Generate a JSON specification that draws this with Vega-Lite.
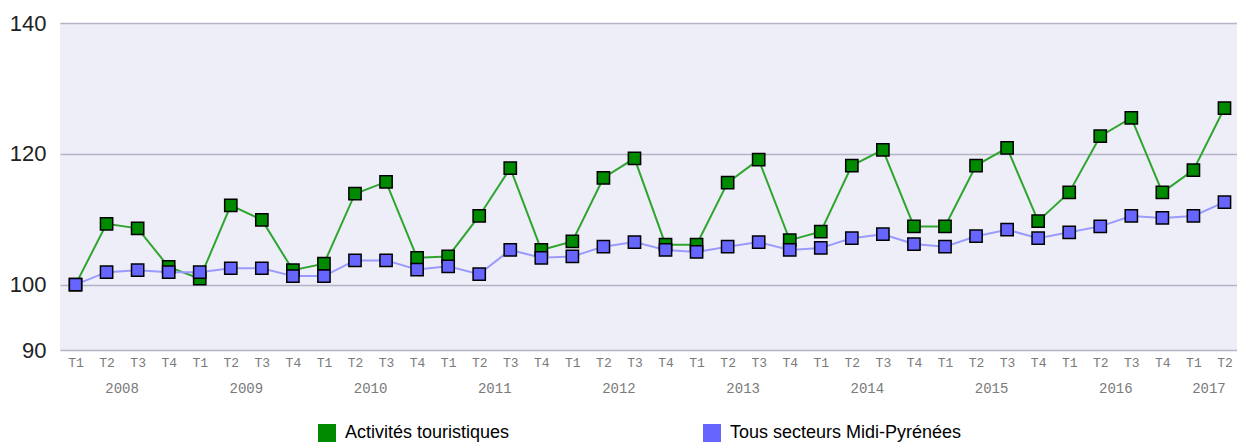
{
  "$schema": "https://vega.github.io/schema/vega-lite/v6.json",
  "width": 1180,
  "height": 327,
  "autosize": "none",
  "padding": {"left": 60, "top": 23, "right": 0, "bottom": 94},
  "background": "white",
  "view": {"fill": "#eeeef8", "stroke": null},
  "config": {
    "font": "Liberation Sans",
    "axisX": {
      "grid": false, "ticks": false, "domain": false,
      "labelFont": "Liberation Mono", "labelFontSize": 13, "labelColor": "#7a7a7a",
      "labelPadding": 6, "labelOverlap": false, "labelFlush": false
    },
    "axisY": {
      "grid": true, "gridColor": "#b4b4c8", "gridWidth": 1.5,
      "ticks": false, "domain": false,
      "labelFontSize": 22, "labelColor": "#222222", "labelPadding": 14
    }
  },
  "datasets": {
    "series": [
      {"idx": 0, "year": "2008", "q": "T1", "serie": "Activités touristiques", "value": 100},
      {"idx": 1, "year": "2008", "q": "T2", "serie": "Activités touristiques", "value": 109.3},
      {"idx": 2, "year": "2008", "q": "T3", "serie": "Activités touristiques", "value": 108.6},
      {"idx": 3, "year": "2008", "q": "T4", "serie": "Activités touristiques", "value": 102.7},
      {"idx": 4, "year": "2009", "q": "T1", "serie": "Activités touristiques", "value": 100.9},
      {"idx": 5, "year": "2009", "q": "T2", "serie": "Activités touristiques", "value": 112.1},
      {"idx": 6, "year": "2009", "q": "T3", "serie": "Activités touristiques", "value": 109.9},
      {"idx": 7, "year": "2009", "q": "T4", "serie": "Activités touristiques", "value": 102.2},
      {"idx": 8, "year": "2010", "q": "T1", "serie": "Activités touristiques", "value": 103.2},
      {"idx": 9, "year": "2010", "q": "T2", "serie": "Activités touristiques", "value": 113.9},
      {"idx": 10, "year": "2010", "q": "T3", "serie": "Activités touristiques", "value": 115.7},
      {"idx": 11, "year": "2010", "q": "T4", "serie": "Activités touristiques", "value": 104.1},
      {"idx": 12, "year": "2011", "q": "T1", "serie": "Activités touristiques", "value": 104.3},
      {"idx": 13, "year": "2011", "q": "T2", "serie": "Activités touristiques", "value": 110.5},
      {"idx": 14, "year": "2011", "q": "T3", "serie": "Activités touristiques", "value": 117.8},
      {"idx": 15, "year": "2011", "q": "T4", "serie": "Activités touristiques", "value": 105.3},
      {"idx": 16, "year": "2012", "q": "T1", "serie": "Activités touristiques", "value": 106.6},
      {"idx": 17, "year": "2012", "q": "T2", "serie": "Activités touristiques", "value": 116.3},
      {"idx": 18, "year": "2012", "q": "T3", "serie": "Activités touristiques", "value": 119.3},
      {"idx": 19, "year": "2012", "q": "T4", "serie": "Activités touristiques", "value": 106.1},
      {"idx": 20, "year": "2013", "q": "T1", "serie": "Activités touristiques", "value": 106.1},
      {"idx": 21, "year": "2013", "q": "T2", "serie": "Activités touristiques", "value": 115.6},
      {"idx": 22, "year": "2013", "q": "T3", "serie": "Activités touristiques", "value": 119.1},
      {"idx": 23, "year": "2013", "q": "T4", "serie": "Activités touristiques", "value": 106.8},
      {"idx": 24, "year": "2014", "q": "T1", "serie": "Activités touristiques", "value": 108.1},
      {"idx": 25, "year": "2014", "q": "T2", "serie": "Activités touristiques", "value": 118.2},
      {"idx": 26, "year": "2014", "q": "T3", "serie": "Activités touristiques", "value": 120.6},
      {"idx": 27, "year": "2014", "q": "T4", "serie": "Activités touristiques", "value": 108.9},
      {"idx": 28, "year": "2015", "q": "T1", "serie": "Activités touristiques", "value": 108.9},
      {"idx": 29, "year": "2015", "q": "T2", "serie": "Activités touristiques", "value": 118.2},
      {"idx": 30, "year": "2015", "q": "T3", "serie": "Activités touristiques", "value": 120.9},
      {"idx": 31, "year": "2015", "q": "T4", "serie": "Activités touristiques", "value": 109.7},
      {"idx": 32, "year": "2016", "q": "T1", "serie": "Activités touristiques", "value": 114.1},
      {"idx": 33, "year": "2016", "q": "T2", "serie": "Activités touristiques", "value": 122.7},
      {"idx": 34, "year": "2016", "q": "T3", "serie": "Activités touristiques", "value": 125.5},
      {"idx": 35, "year": "2016", "q": "T4", "serie": "Activités touristiques", "value": 114.1},
      {"idx": 36, "year": "2017", "q": "T1", "serie": "Activités touristiques", "value": 117.5},
      {"idx": 37, "year": "2017", "q": "T2", "serie": "Activités touristiques", "value": 127.0},
      {"idx": 0, "year": "2008", "q": "T1", "serie": "Tous secteurs Midi-Pyrénées", "value": 100},
      {"idx": 1, "year": "2008", "q": "T2", "serie": "Tous secteurs Midi-Pyrénées", "value": 101.9},
      {"idx": 2, "year": "2008", "q": "T3", "serie": "Tous secteurs Midi-Pyrénées", "value": 102.2},
      {"idx": 3, "year": "2008", "q": "T4", "serie": "Tous secteurs Midi-Pyrénées", "value": 101.9},
      {"idx": 4, "year": "2009", "q": "T1", "serie": "Tous secteurs Midi-Pyrénées", "value": 101.9},
      {"idx": 5, "year": "2009", "q": "T2", "serie": "Tous secteurs Midi-Pyrénées", "value": 102.5},
      {"idx": 6, "year": "2009", "q": "T3", "serie": "Tous secteurs Midi-Pyrénées", "value": 102.5},
      {"idx": 7, "year": "2009", "q": "T4", "serie": "Tous secteurs Midi-Pyrénées", "value": 101.3},
      {"idx": 8, "year": "2010", "q": "T1", "serie": "Tous secteurs Midi-Pyrénées", "value": 101.3},
      {"idx": 9, "year": "2010", "q": "T2", "serie": "Tous secteurs Midi-Pyrénées", "value": 103.7},
      {"idx": 10, "year": "2010", "q": "T3", "serie": "Tous secteurs Midi-Pyrénées", "value": 103.7},
      {"idx": 11, "year": "2010", "q": "T4", "serie": "Tous secteurs Midi-Pyrénées", "value": 102.3},
      {"idx": 12, "year": "2011", "q": "T1", "serie": "Tous secteurs Midi-Pyrénées", "value": 102.8},
      {"idx": 13, "year": "2011", "q": "T2", "serie": "Tous secteurs Midi-Pyrénées", "value": 101.6},
      {"idx": 14, "year": "2011", "q": "T3", "serie": "Tous secteurs Midi-Pyrénées", "value": 105.3},
      {"idx": 15, "year": "2011", "q": "T4", "serie": "Tous secteurs Midi-Pyrénées", "value": 104.1},
      {"idx": 16, "year": "2012", "q": "T1", "serie": "Tous secteurs Midi-Pyrénées", "value": 104.3},
      {"idx": 17, "year": "2012", "q": "T2", "serie": "Tous secteurs Midi-Pyrénées", "value": 105.8},
      {"idx": 18, "year": "2012", "q": "T3", "serie": "Tous secteurs Midi-Pyrénées", "value": 106.5},
      {"idx": 19, "year": "2012", "q": "T4", "serie": "Tous secteurs Midi-Pyrénées", "value": 105.3},
      {"idx": 20, "year": "2013", "q": "T1", "serie": "Tous secteurs Midi-Pyrénées", "value": 105.0},
      {"idx": 21, "year": "2013", "q": "T2", "serie": "Tous secteurs Midi-Pyrénées", "value": 105.8},
      {"idx": 22, "year": "2013", "q": "T3", "serie": "Tous secteurs Midi-Pyrénées", "value": 106.5},
      {"idx": 23, "year": "2013", "q": "T4", "serie": "Tous secteurs Midi-Pyrénées", "value": 105.3},
      {"idx": 24, "year": "2014", "q": "T1", "serie": "Tous secteurs Midi-Pyrénées", "value": 105.6},
      {"idx": 25, "year": "2014", "q": "T2", "serie": "Tous secteurs Midi-Pyrénées", "value": 107.1},
      {"idx": 26, "year": "2014", "q": "T3", "serie": "Tous secteurs Midi-Pyrénées", "value": 107.7},
      {"idx": 27, "year": "2014", "q": "T4", "serie": "Tous secteurs Midi-Pyrénées", "value": 106.2},
      {"idx": 28, "year": "2015", "q": "T1", "serie": "Tous secteurs Midi-Pyrénées", "value": 105.8},
      {"idx": 29, "year": "2015", "q": "T2", "serie": "Tous secteurs Midi-Pyrénées", "value": 107.4},
      {"idx": 30, "year": "2015", "q": "T3", "serie": "Tous secteurs Midi-Pyrénées", "value": 108.4},
      {"idx": 31, "year": "2015", "q": "T4", "serie": "Tous secteurs Midi-Pyrénées", "value": 107.1},
      {"idx": 32, "year": "2016", "q": "T1", "serie": "Tous secteurs Midi-Pyrénées", "value": 108.0},
      {"idx": 33, "year": "2016", "q": "T2", "serie": "Tous secteurs Midi-Pyrénées", "value": 108.9},
      {"idx": 34, "year": "2016", "q": "T3", "serie": "Tous secteurs Midi-Pyrénées", "value": 110.5},
      {"idx": 35, "year": "2016", "q": "T4", "serie": "Tous secteurs Midi-Pyrénées", "value": 110.2},
      {"idx": 36, "year": "2017", "q": "T1", "serie": "Tous secteurs Midi-Pyrénées", "value": 110.5},
      {"idx": 37, "year": "2017", "q": "T2", "serie": "Tous secteurs Midi-Pyrénées", "value": 112.6}
    ],
    "years": [
      {"year": "2008", "mid": 1.5},
      {"year": "2009", "mid": 5.5},
      {"year": "2010", "mid": 9.5},
      {"year": "2011", "mid": 13.5},
      {"year": "2012", "mid": 17.5},
      {"year": "2013", "mid": 21.5},
      {"year": "2014", "mid": 25.5},
      {"year": "2015", "mid": 29.5},
      {"year": "2016", "mid": 33.5},
      {"year": "2017", "mid": 36.5}
    ]
  },
  "layer": [
    {
      "data": {"name": "series"},
      "transform": [{"filter": "datum.serie == 'Activités touristiques'"}],
      "mark": {"type": "line", "strokeWidth": 2, "color": "#2ea62e"},
      "encoding": {
        "x": {
          "field": "idx", "type": "quantitative",
          "scale": {"domain": [-0.5, 37.5], "nice": false, "zero": false},
          "axis": {
            "values": [0,1,2,3,4,5,6,7,8,9,10,11,12,13,14,15,16,17,18,19,20,21,22,23,24,25,26,27,28,29,30,31,32,33,34,35,36,37],
            "labelExpr": "'T' + (datum.value % 4 + 1)",
            "title": null
          }
        },
        "y": {
          "field": "value", "type": "quantitative",
          "scale": {"domain": [90, 140], "nice": false, "zero": false},
          "axis": {"values": [90, 100, 120, 140], "title": null}
        }
      }
    },
    {
      "data": {"name": "series"},
      "transform": [{"filter": "datum.serie == 'Tous secteurs Midi-Pyrénées'"}],
      "mark": {"type": "line", "strokeWidth": 2, "color": "#9a9aff"},
      "encoding": {
        "x": {
          "field": "idx", "type": "quantitative",
          "axis": {
            "values": [0,1,2,3,4,5,6,7,8,9,10,11,12,13,14,15,16,17,18,19,20,21,22,23,24,25,26,27,28,29,30,31,32,33,34,35,36,37],
            "labelExpr": "'T' + (datum.value % 4 + 1)",
            "title": null
          }
        },
        "y": {
          "field": "value", "type": "quantitative",
          "axis": {"values": [90, 100, 120, 140], "title": null}
        }
      }
    },
    {
      "data": {"name": "series"},
      "mark": {"type": "point", "shape": "square", "filled": true, "size": 150, "stroke": "black", "strokeWidth": 1.5, "opacity": 1},
      "encoding": {
        "x": {
          "field": "idx", "type": "quantitative",
          "axis": {
            "values": [0,1,2,3,4,5,6,7,8,9,10,11,12,13,14,15,16,17,18,19,20,21,22,23,24,25,26,27,28,29,30,31,32,33,34,35,36,37],
            "labelExpr": "'T' + (datum.value % 4 + 1)",
            "title": null
          }
        },
        "y": {
          "field": "value", "type": "quantitative",
          "axis": {"values": [90, 100, 120, 140], "title": null}
        },
        "color": {
          "field": "serie", "type": "nominal",
          "scale": {"domain": ["Activités touristiques", "Tous secteurs Midi-Pyrénées"], "range": ["#008a00", "#6666ff"]},
          "legend": {
            "title": null, "orient": "none", "direction": "horizontal",
            "legendX": 258, "legendY": 401,
            "symbolType": "square", "symbolSize": 324, "symbolStrokeWidth": 0,
            "symbolOpacity": 1, "labelLimit": 400,
            "labelFontSize": 18, "labelColor": "#000000", "labelFont": "Liberation Sans",
            "columnPadding": 193, "labelOffset": 9
          }
        }
      }
    },
    {
      "data": {"name": "years"},
      "mark": {"type": "text", "dy": 39, "font": "Liberation Mono", "fontSize": 14, "color": "#7a7a7a", "baseline": "middle", "align": "center"},
      "encoding": {
        "x": {
          "field": "mid", "type": "quantitative",
          "axis": {
            "values": [0,1,2,3,4,5,6,7,8,9,10,11,12,13,14,15,16,17,18,19,20,21,22,23,24,25,26,27,28,29,30,31,32,33,34,35,36,37],
            "labelExpr": "'T' + (datum.value % 4 + 1)",
            "title": null
          }
        },
        "y": {
          "datum": 90, "type": "quantitative",
          "axis": {"values": [90, 100, 120, 140], "title": null}
        },
        "text": {"field": "year", "type": "nominal"}
      }
    }
  ]
}
